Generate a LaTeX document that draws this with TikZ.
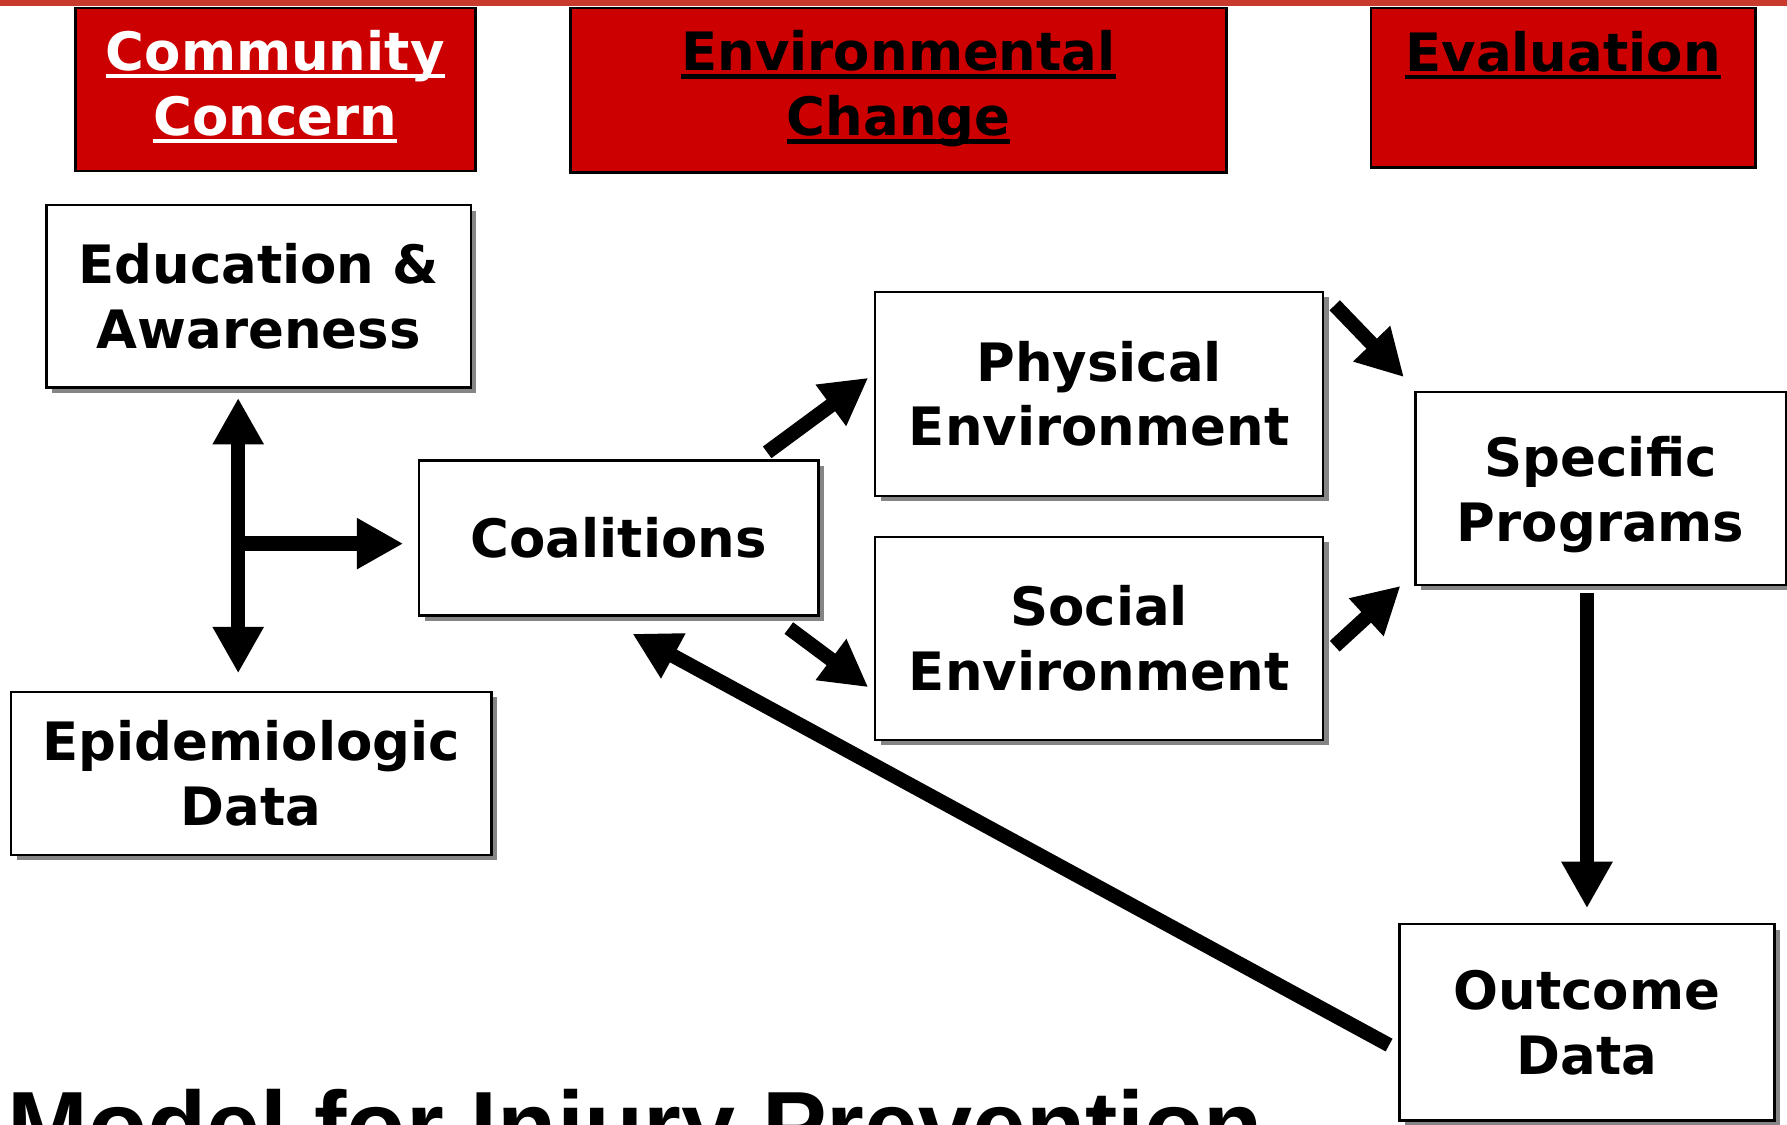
\documentclass[tikz,border=0pt]{standalone}
\usepackage{fontspec}
\setmainfont{DejaVu Sans}
\newfontfamily\titlefont{Liberation Sans}
\usetikzlibrary{arrows.meta,calc,shadows}
\definecolor{headred}{RGB}{204,0,0}
\definecolor{barred}{RGB}{200,58,46}
\newcommand{\boxfont}{\fontsize{13.2}{16.2}\selectfont\bfseries}
\newcommand{\headul}[1]{\setbox0=\hbox{#1}\rlap{\rule[-0.15em]{\wd0}{0.085em}}\box0}
\tikzset{
  head/.style={draw=black, line width=0.7pt, fill=headred, align=center, inner sep=0pt, font=\boxfont},
  stage/.style={draw=black, line width=0.6pt, fill=white, align=center, inner sep=0pt, font=\boxfont,
    drop shadow={shadow xshift=1.4pt, shadow yshift=-1.4pt, fill=black!48, opacity=1}},
  fat/.style={line width=3.6pt, -{Triangle[length=11.6pt,width=12pt]}},
}
\begin{document}
\begin{tikzpicture}[x=0.01cm, y=-0.01cm]
        \useasboundingbox (0,0) rectangle (1568,987);
        \clip (0,0) rectangle (1568,987);
        \fill[white] (0,0) rectangle (1568,987);
        \fill[barred] (0,0) rectangle (1568,5);

        % header row
        \node[head, text=white, minimum width=3.51cm, minimum height=1.43cm] (cc) at (241.5,78.5) {\headul{Community}\\\headul{Concern}\rule[-3.4pt]{0pt}{0pt}};
        \node[head, minimum width=5.75cm, minimum height=1.44cm] (ec) at (788.5,79) {\headul{Environmental}\\\headul{Change}\rule[-3.4pt]{0pt}{0pt}};
        \node[head, minimum width=3.37cm, minimum height=1.40cm] (ev) at (1371.5,77) {\headul{Evaluation}\\[2pt]\mbox{}};

        % boxes
        \node[stage, minimum width=3.72cm, minimum height=1.60cm] (edu) at (227,260) {Education \&\\Awareness};
        \node[stage, minimum width=4.21cm, minimum height=1.43cm] (epi) at (220.5,678.5) {Epidemiologic\\Data};
        \node[stage, minimum width=3.50cm, minimum height=1.36cm] (coal) at (543,472) {Coalitions};
        \node[stage, minimum width=3.93cm, minimum height=1.79cm] (phys) at (964.5,345.5) {Physical\\Environment};
        \node[stage, minimum width=3.93cm, minimum height=1.78cm] (soc) at (964.5,560) {Social\\Environment};
        \node[stage, minimum width=3.25cm, minimum height=1.69cm] (spec) at (1404.5,428.5) {\rule{0pt}{13pt}Specific\\Programs};
        \node[stage, minimum width=3.29cm, minimum height=1.72cm] (out) at (1392.5,897) {Outcome\\Data};

        \node[anchor=base west, inner sep=0pt, font=\titlefont\fontsize{24.2}{28}\selectfont\bfseries] (title) at (6,1017) {Model for Injury Prevention};

        % arrows
        \coordinate (fork) at (209,477);
        \draw[fat, {Triangle[length=11.6pt,width=12pt]}-{Triangle[length=11.6pt,width=12pt]}, shorten <=2.3pt, shorten >=4.3pt] (edu.south -| fork) -- (epi.north -| fork);
        \draw[fat, shorten >=3.7pt] (fork) -- (fork -| coal.west);
        \draw[fat] ($(coal.north east)+(-46,-6)$) -- ($(phys.west)+(-5,-14)$);
        \draw[fat] ($(coal.south east)+(-27,10)$) -- ($(soc.west)+(-5,43)$);
        \draw[fat] ($(phys.north east)+(9,13)$) -- ($(spec.north west)+(-9,-12)$);
        \draw[fat] ($(soc.east)+(9,7)$) -- ($(spec.south west)+(-12,0)$);
        \draw[fat, shorten <=1.7pt, shorten >=3.7pt] (out.north |- spec.south) -- (out.north);
        \draw[fat] ($(out.west)+(-8,20)$) -- ($(coal.south)+(12,15)$);
\end{tikzpicture}
\end{document}
